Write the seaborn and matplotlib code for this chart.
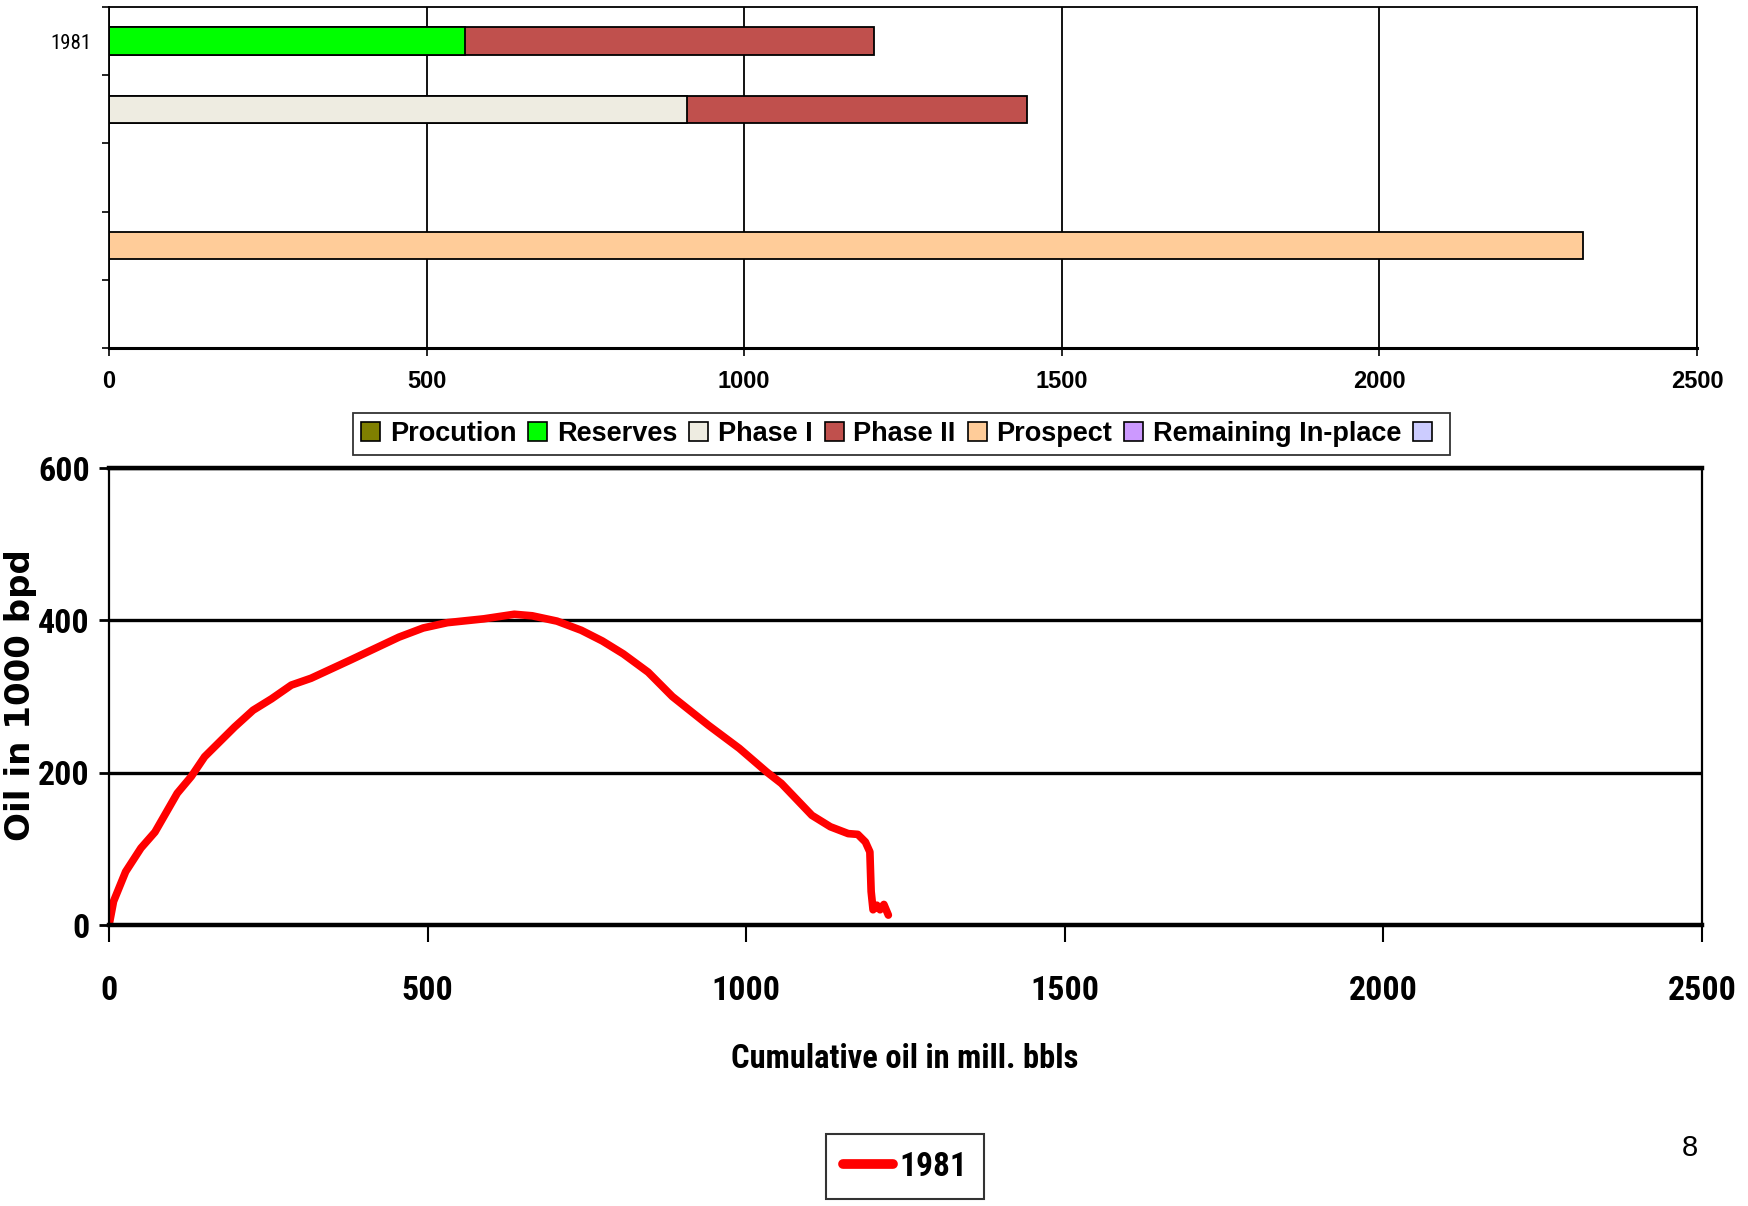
import pandas as pd
import numpy as np
import matplotlib
matplotlib.use("Agg")
import matplotlib.pyplot as plt
from matplotlib import font_manager as fm
from matplotlib.patches import Patch
from matplotlib.lines import Line2D
import seaborn as sns

# rows of the upper bar panel (only the first one carries a label)
row_keys = ["1981", "r2", "r3", "r4", "r5"]
row_labels = ["1981", "", "", "", ""]

# stacked segments, mill. bbls
segments = ["Procution", "Reserves", "Phase I", "Phase II", "Prospect", "Remaining In-place"]
production = [0, 0, 0, 0, 0]
reserves = [560, 0, 0, 0, 0]
phase_1 = [0, 910, 0, 0, 0]
phase_2 = [645, 535, 0, 0, 0]
prospect = [0, 0, 0, 2320, 0]
remaining = [0, 0, 0, 0, 0]

# 1981 production profile: cumulative oil (mill. bbls) vs rate (1000 bpd)
cum_oil = [0, 7, 26, 50, 72, 107, 129, 150, 197, 226, 255, 286, 317, 379, 417,
           455, 493, 531, 588, 636, 664, 703, 741, 774, 807, 846, 884, 941, 989,
           1032, 1055, 1103, 1132, 1160, 1175, 1187, 1194, 1196, 1199, 1205,
           1210, 1216, 1223]
oil_rate = [0, 31, 70, 101, 122, 173, 195, 221, 260, 282, 297, 315, 324, 348, 363,
            378, 390, 397, 402, 408, 406, 399, 387, 373, 356, 332, 300, 262, 232,
            201, 186, 144, 129, 120, 119, 109, 96, 44, 20, 26, 20, 27, 13]

seg_colors = ["#808000", "#00ff00", "#eeece1", "#c0504d", "#ffcc99", "#cc99ff"]
extra_color = "#ccccff"

wide = ["Liberation Sans", "DejaVu Sans"]

# look for a condensed face (Arial Narrow look-alike) among installed fonts
cond_names = [f.name for f in fm.fontManager.ttflist
              if str(f.stretch) in ("condensed", "semi-condensed", "extra-condensed")]
prefer = ["Liberation Sans Narrow", "Arial Narrow", "Nimbus Sans Narrow", "Roboto Condensed",
          "Open Sans Condensed", "Roboto", "DejaVu Sans", "Noto Sans"]
narrow_name = next((n for n in prefer if n in cond_names), cond_names[0] if cond_names else None)
if narrow_name:
    narrow = {"family": [narrow_name, "DejaVu Sans"], "stretch": "condensed"}
    big = 24.5
else:
    narrow = {"family": wide, "stretch": "normal"}
    big = 20

sns.set_style("white")
plt.rcParams["font.family"] = wide
for key in ["text.color", "axes.labelcolor", "xtick.color", "ytick.color"]:
    plt.rcParams[key] = "black"

fig = plt.figure(figsize=(17.48, 12.06), dpi=100)
ax1 = fig.add_axes([0.0624, 0.7114, 0.9084, 0.2828])
ax2 = fig.add_axes([0.0624, 0.2330, 0.9113, 0.3789])

# --- upper panel: stacked horizontal bars (draw cumulative ends, outermost first)
bars = pd.DataFrame({name: vals for name, vals in
                     zip(segments, [production, reserves, phase_1, phase_2, prospect, remaining])},
                    index=row_keys)
cum = bars.cumsum(axis=1)
for name, col in reversed(list(zip(segments, seg_colors))):
    part = pd.DataFrame({"row": row_keys, "end": cum[name].values, "val": bars[name].values})
    part = part[part["val"] > 0]
    if part.empty:
        continue
    sns.barplot(data=part, x="end", y="row", order=row_keys, orient="h", color=col,
                saturation=1, width=0.4, edgecolor="black", linewidth=1.3,
                errorbar=None, ax=ax1)

ax1.set_xlim(0, 2500)
ax1.set_ylim(4.5, -0.5)
ax1.set_xticks(np.arange(0, 2501, 500))
ax1.set_xticklabels([str(v) for v in range(0, 2501, 500)], fontsize=17,
                    fontweight="bold", family=wide)
ax1.set_yticks(range(5))
ax1.set_yticklabels(row_labels, fontsize=15, family=narrow["family"], fontstretch=narrow["stretch"])
ax1.set_yticks(np.arange(-0.5, 5, 1), minor=True)
ax1.tick_params(axis="y", which="major", length=0, pad=13)
ax1.tick_params(axis="y", which="minor", length=5, width=1.2, direction="out", color="black", left=True)
ax1.tick_params(axis="x", length=6, width=1.2, direction="out", color="black", bottom=True, pad=10)
ax1.grid(axis="x", color="black", lw=1.3)
ax1.set_axisbelow(True)
ax1.set_xlabel("")
ax1.set_ylabel("")
for side, sp in ax1.spines.items():
    sp.set_color("black")
    sp.set_linewidth(1.3)
ax1.spines["bottom"].set_linewidth(2.2)

handles = [Patch(facecolor=c, edgecolor="black", lw=1.2) for c in seg_colors]
handles.append(Patch(facecolor=extra_color, edgecolor="black", lw=1.2))
leg1 = fig.legend(handles, segments + [""], loc="center", bbox_to_anchor=(0.5157, 0.6401),
                  ncol=7, frameon=True, fancybox=False, edgecolor="black",
                  handlelength=0.7, handleheight=0.7, handletextpad=0.35,
                  columnspacing=0.45, borderpad=0.3,
                  prop={"family": wide, "weight": "bold", "size": 19.5})
leg1.get_frame().set_linewidth(1.3)

# --- lower panel: rate vs cumulative
sns.lineplot(x=cum_oil, y=oil_rate, sort=False, estimator=None, color="#ff0000",
             lw=5.5, ax=ax2)
ax2.set_xlim(0, 2500)
ax2.set_ylim(0, 600)
ax2.set_xticks(np.arange(0, 2501, 500))
ax2.set_xticklabels([str(v) for v in range(0, 2501, 500)], fontsize=big,
                    fontweight="bold", family=narrow["family"], fontstretch=narrow["stretch"])
ax2.set_yticks([0, 200, 400, 600])
ax2.set_yticklabels(["0", "200", "400", "600"], fontsize=big, fontweight="bold",
                    family=narrow["family"], fontstretch=narrow["stretch"])
ax2.tick_params(axis="x", length=12, width=1.5, direction="out", color="black", bottom=True, pad=24)
ax2.tick_params(axis="y", length=7, width=2, direction="out", color="black", left=True, pad=7)
ax2.grid(axis="y", color="black", lw=2.4)
ax2.grid(axis="x", visible=False)
ax2.set_xlabel("")
ax2.set_ylabel("")
for side, sp in ax2.spines.items():
    sp.set_color("black")
    sp.set_linewidth(1.6)
ax2.spines["top"].set_linewidth(3.2)
ax2.spines["bottom"].set_linewidth(3.2)

fig.text(0.0118, 0.4237, "Oil in 1000 bpd", rotation=90, ha="center", va="center",
         fontsize=24.5, fontweight="bold", family="DejaVu Sans")
fig.text(0.5177, 0.1219, "Cumulative oil in mill. bbls", ha="center", va="center",
         fontsize=big - 1, fontweight="bold", family=narrow["family"], fontstretch=narrow["stretch"])

leg2 = fig.legend([Line2D([], [], color="#ff0000", lw=7)], ["1981"], loc="upper center",
                  bbox_to_anchor=(0.5177, 0.0597), frameon=True, fancybox=False,
                  edgecolor="black", handlelength=1.5, handletextpad=0.2, borderpad=0.5,
                  borderaxespad=0,
                  prop={"family": narrow["family"], "stretch": narrow["stretch"],
                        "weight": "bold", "size": 24})
leg2.get_frame().set_linewidth(1.5)

fig.text(0.9668, 0.0481, "8", ha="center", va="center", fontsize=21, family=wide)

fig.savefig("out.png", dpi=100, facecolor="white")
